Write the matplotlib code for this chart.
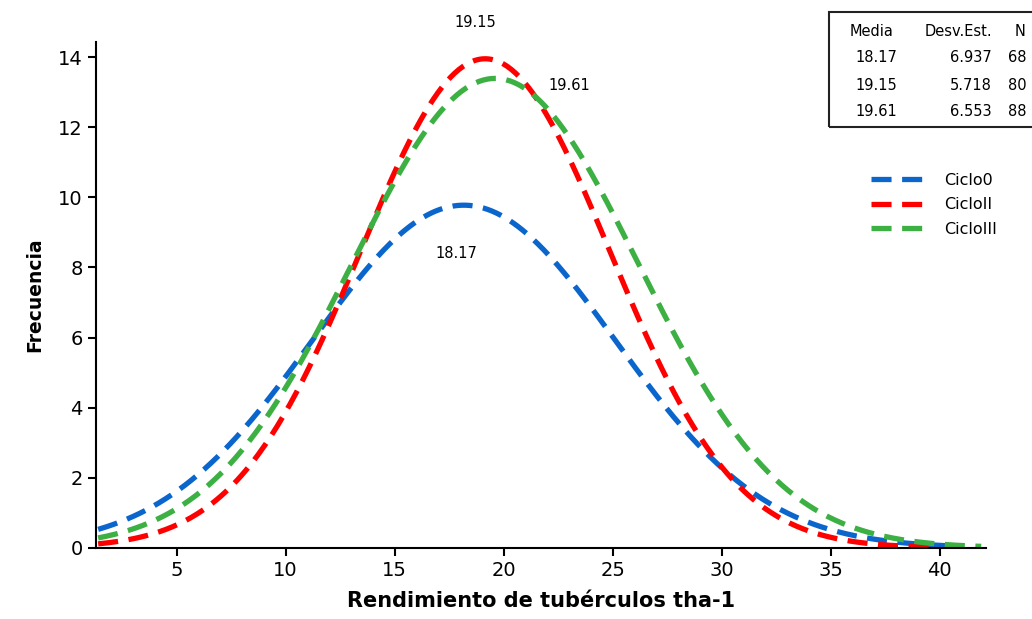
import numpy as np
import matplotlib.pyplot as plt
from matplotlib.patches import Rectangle

# fitted normal curves (values from the summary table)
series = ['Ciclo0', 'CicloII', 'CicloIII']
media = [18.17, 19.15, 19.61]
desv = [6.937, 5.718, 6.553]
n_obs = [68, 80, 88]
x_ini = [1.4, 1.4, 1.4]
x_fin = [41.0, 40.0, 41.9]
bin_width = 2.5
colors = ['#0a66cc', '#ff0000', '#3cb043']

# peak labels (text, x, y)
peak_labels = [('18.17', 17.85, 8.4), ('19.15', 18.7, 15.0), ('19.61', 23.0, 13.2)]

fig = plt.figure(figsize=(10.32, 6.19), dpi=100)
ax = fig.add_axes([0.093, 0.115, 0.862, 0.817])

for name, m, s, n, a, b, c in zip(series, media, desv, n_obs, x_ini, x_fin, colors):
    x = np.linspace(a, b, 400)
    y = n * bin_width * np.exp(-0.5 * ((x - m) / s) ** 2) / (s * np.sqrt(2 * np.pi))
    ax.plot(x, y, color=c, lw=3.8, dashes=(3.8, 2.0), label=name)

for txt, x, y in peak_labels:
    ax.text(x, y, txt, fontsize=10.5, ha='center', va='center', clip_on=False)

ax.set_xlim(1.3, 42.1)
ax.set_ylim(0, 14.43)
ax.set_xticks([5, 10, 15, 20, 25, 30, 35, 40])
ax.set_yticks([0, 2, 4, 6, 8, 10, 12, 14])
ax.tick_params(labelsize=14, width=1.5, length=6)
ax.spines['top'].set_visible(False)
ax.spines['right'].set_visible(False)
ax.spines['left'].set_linewidth(1.5)
ax.spines['bottom'].set_linewidth(1.5)
ax.set_xlabel('Rendimiento de tubérculos tha-1', fontsize=15, fontweight='bold', labelpad=8)
ax.set_ylabel('Frecuencia', fontsize=13.5, fontweight='bold', labelpad=10)

leg = ax.legend(loc='upper left', bbox_to_anchor=(0.855, 0.77), frameon=False,
                fontsize=11.5, handlelength=3.4, handletextpad=1.2, labelspacing=0.6)

# summary table box at top right
fig.patches.append(Rectangle((0.803, 0.795), 0.3, 0.186, transform=fig.transFigure,
                             fill=False, edgecolor='#222222', lw=1.5))
tfs = 10.5
fig.text(872 / 1032, 1 - 32 / 619, 'Media', ha='center', va='center', fontsize=tfs)
fig.text(992 / 1032, 1 - 32 / 619, 'Desv.Est.', ha='right', va='center', fontsize=tfs)
fig.text(1020 / 1032, 1 - 32 / 619, 'N', ha='center', va='center', fontsize=tfs)
for i, (m, s, n) in enumerate(zip(media, desv, n_obs)):
    yy = 1 - (58 + 27 * i) / 619
    fig.text(876 / 1032, yy, f'{m:.2f}', ha='center', va='center', fontsize=tfs)
    fig.text(992 / 1032, yy, f'{s:.3f}', ha='right', va='center', fontsize=tfs)
    fig.text(1008 / 1032, yy, f'{n}', ha='left', va='center', fontsize=tfs)

fig.savefig('out.png', dpi=100)
